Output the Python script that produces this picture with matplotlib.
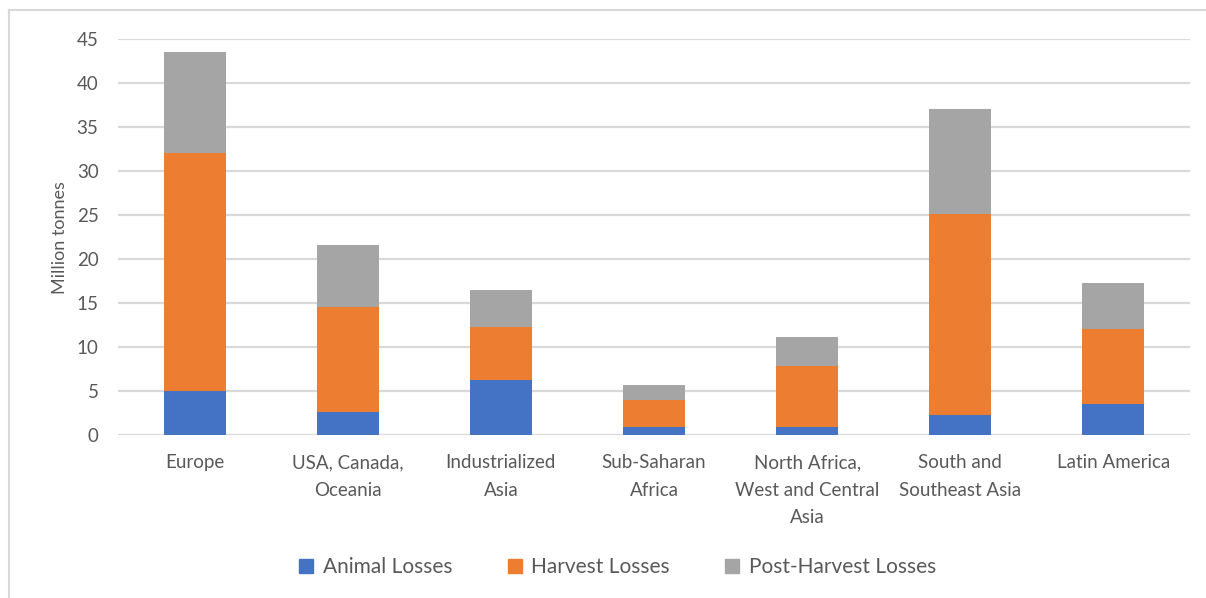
import matplotlib
matplotlib.use("Agg")
import matplotlib.pyplot as plt
from matplotlib.lines import Line2D
import numpy as np

regions = ["Europe", "USA, Canada,\nOceania", "Industrialized\nAsia", "Sub-Saharan\nAfrica",
           "North Africa,\nWest and Central\nAsia", "South and\nSoutheast Asia", "Latin America"]
animal = [5.0, 2.65, 6.3, 0.9, 0.9, 2.25, 3.5]
harvest = [27.1, 11.95, 5.95, 3.1, 7.0, 22.85, 8.6]
post_harvest = [11.4, 7.0, 4.25, 1.7, 3.2, 11.95, 5.15]
series_names = ["Animal Losses", "Harvest Losses", "Post-Harvest Losses"]
colors = ["#4472c4", "#ed7d31", "#a5a5a5"]

plt.rcParams["font.family"] = ["Lato", "DejaVu Sans"]
txt = "#595959"

W, H = 1206, 598
fig = plt.figure(figsize=(W / 100, H / 100), dpi=100)
ax = fig.add_axes([118 / W, 1 - 435 / H, (1190 - 118) / W, (435 - 39.3) / H])

x = np.arange(len(regions))
bottom = np.zeros(len(regions))
for vals, name, c in zip([animal, harvest, post_harvest], series_names, colors):
    ax.bar(x, vals, bottom=bottom, width=0.405, color=c, label=name, zorder=3)
    bottom += np.array(vals)

ax.set_xlim(-0.5, len(regions) - 0.5)
ax.set_ylim(0, 45)
ax.set_yticks(range(0, 46, 5))
ax.yaxis.grid(True, color="#d9d9d9", linewidth=1.6, zorder=0)
for s in ax.spines.values():
    s.set_visible(False)
ax.tick_params(axis="both", length=0, colors=txt, labelsize=13.5)
ax.tick_params(axis="y", pad=14)
ax.tick_params(axis="x", pad=14)
ax.set_xticks(x)
ax.set_xticklabels(regions, linespacing=1.72, va="top")
ax.set_ylabel("Million tonnes", color=txt, fontsize=13, labelpad=6)

# legend
handles = [Line2D([], [], marker="s", linestyle="", markersize=10, color=c) for c in colors]
fig.legend(handles, series_names, loc="center", bbox_to_anchor=(616 / W, 1 - 567 / H),
           ncol=3, frameon=False, fontsize=15, labelcolor=txt, columnspacing=2.5,
           handletextpad=0.3, handlelength=1.0)

# chart area border (left and top edges visible)
fig.add_artist(Line2D([9 / W, 9 / W], [0, 1 - 10 / H], color="#d9d9d9", linewidth=1.5))
fig.add_artist(Line2D([9 / W, 1], [1 - 10 / H, 1 - 10 / H], color="#d9d9d9", linewidth=1.5))

fig.savefig("out.png", dpi=100)
